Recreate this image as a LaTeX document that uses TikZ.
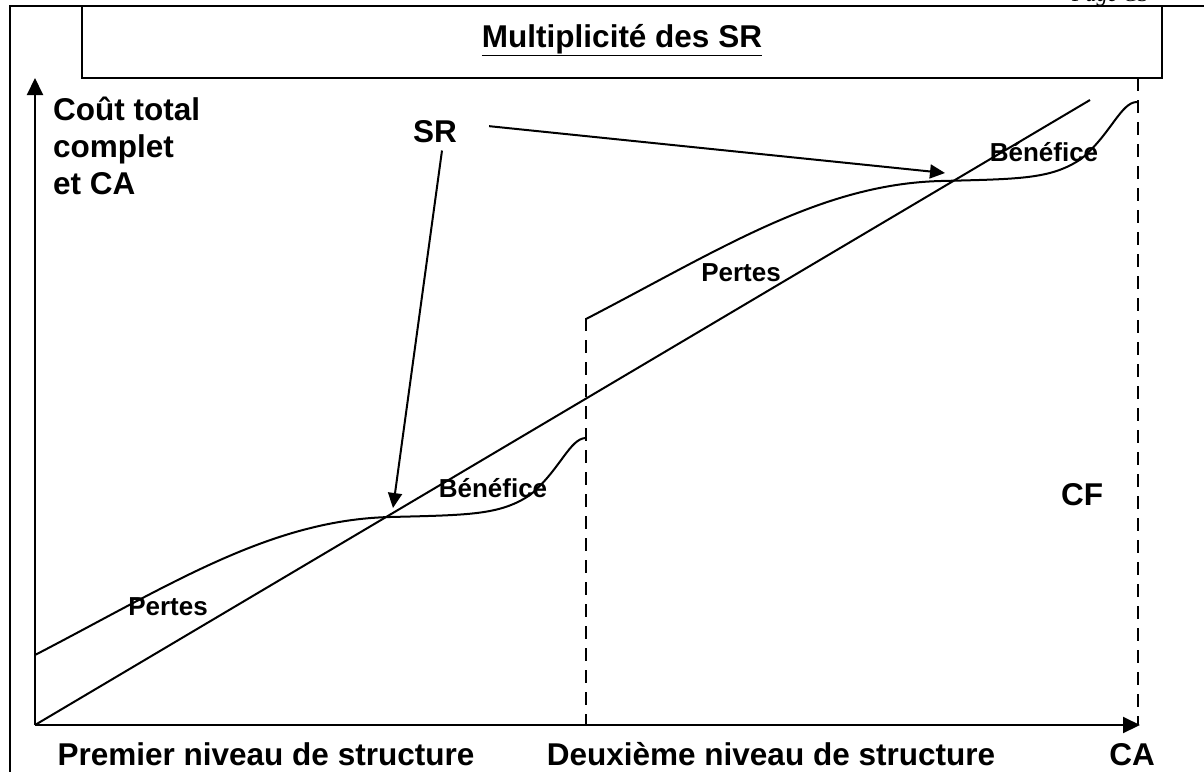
\documentclass[tikz,border=0pt]{standalone}
\usepackage{fontspec}
\setmainfont{Liberation Sans}
\newfontfamily\pagefont{Liberation Serif}
\usetikzlibrary{arrows.meta,calc}
\tikzset{
  trait/.style={line width=2pt},
  cadre/.style={line width=2.3pt},
  pointille/.style={trait,dash pattern=on 13pt off 9pt},
  axe/.style={trait,-{Triangle[length=17pt,width=16pt]}},
  fleche/.style={trait,-{Triangle[length=15pt,width=14pt]}},
  grand/.style={inner sep=0pt,font=\bfseries\fontsize{31.5}{37}\selectfont},
  petit/.style={inner sep=0pt,font=\bfseries\fontsize{26}{31}\selectfont},
}

\begin{document}
\begin{tikzpicture}[x=1pt,y=-1pt]
\useasboundingbox (0,0) rectangle (1204,771);

% cadre et titre
\draw[cadre] (1215,6) -- (10,6) -- (10,785);
\draw[cadre] (82,6) rectangle (1162,78);
\node[grand] (titre) at (622,40) {\underline{Multiplicité des SR}};
\node[anchor=base west,inner sep=0pt,font=\pagefont\itshape\fontsize{22}{26}\selectfont] (page) at (1072,1.5) {Page CS};

% axes
\coordinate (O) at (35,725);
\coordinate (ytip) at (35,78);
\coordinate (xtip) at (1140,725);
\draw[axe] (O) -- (ytip);
\draw[axe] (O) -- (xtip);

% chiffre d'affaires
\coordinate (caend) at (1090,100);
\draw[trait] (O) -- (caend);

% cout total, deux niveaux de structure
\foreach \i/\dx/\dy in {1/0/0,2/551/-336}{
  \begin{scope}[shift={(\dx,\dy)}]
    \draw[trait] (35,655) .. controls (170,585) and (270,520) .. (390,517)
      .. controls (470,515) and (500,515) .. (530,495)
      .. controls (560,470) and (570,438) .. (586,438);
  \end{scope}
}
\coordinate (s1top) at (586,318);
\coordinate (s1bot) at (586,725);
\coordinate (s2top) at (1138,78);
\coordinate (s2bot) at (1138,725);
\draw[pointille] (s1top) -- (s1bot);
\draw[pointille] (s2top) -- (s2bot);

\node[petit] (pertes1) at (168,607) {Pertes};
\node[petit] (pertes2) at (741,273) {Pertes};
\node[petit] (benef1) at (493,488) {Bénéfice};
\node[petit] (benef2) at (1044,152) {Bénéfice};

% seuils de rentabilite
\node[grand,anchor=base] (sr) at (435,142) {SR};
\coordinate (sr1) at (393,508);
\coordinate (sr2) at (945,173);
\draw[fleche] ($(sr.south)+(7,8)$) -- (sr1);
\draw[fleche] ($(sr.east)+(32,-5)$) -- (sr2);

\node[grand,anchor=north west,align=left] (ordonnee) at (53,97) {Coût total\\complet\\et CA};
\node[grand] (cf) at (1082,495) {CF};

\node[grand,anchor=base] (niveau1) at (266,765) {Premier niveau de structure};
\node[grand,anchor=base] (niveau2) at (771,765) {Deuxième niveau de structure};
\node[grand,anchor=base] (ca) at (1132,765) {CA};
\end{tikzpicture}
\end{document}
